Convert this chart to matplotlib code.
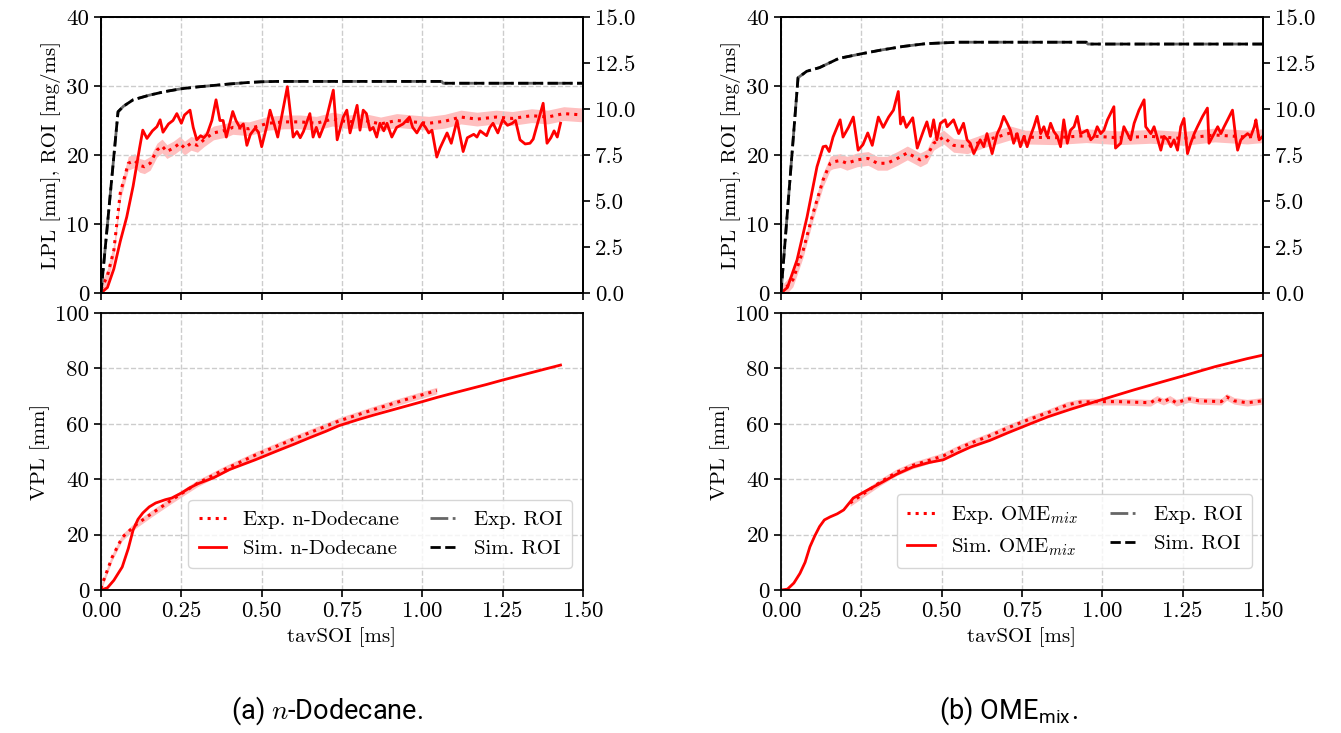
import matplotlib
matplotlib.use("Agg")
import matplotlib.pyplot as plt
import numpy as np

plt.rcParams['font.family'] = 'serif'
plt.rcParams['font.serif'] = ['cmr10']
plt.rcParams['mathtext.fontset'] = 'cm'
plt.rcParams['axes.unicode_minus'] = False
plt.rcParams['font.size'] = 15
plt.rcParams['xtick.labelsize'] = 16.5
plt.rcParams['ytick.labelsize'] = 16.5

# ---------------- (a) n-Dodecane ----------------
t_lpl_sim_a = [0.0, 0.02, 0.04, 0.06, 0.08, 0.10, 0.12, 0.13, 0.143, 0.16,
               0.174, 0.184, 0.193, 0.21, 0.224, 0.236, 0.25, 0.26, 0.277, 0.287,
               0.298, 0.31, 0.32, 0.33, 0.345, 0.358, 0.37, 0.38, 0.39, 0.41,
               0.42, 0.432, 0.443, 0.454, 0.465, 0.48, 0.49, 0.50, 0.515, 0.526,
               0.54, 0.55, 0.58, 0.598, 0.61, 0.62, 0.63, 0.65, 0.66, 0.67,
               0.68, 0.70, 0.723, 0.735, 0.754, 0.765, 0.775, 0.797, 0.806, 0.816,
               0.826, 0.837, 0.847, 0.858, 0.868, 0.88, 0.89, 0.905, 0.92, 0.94,
               0.96, 0.97, 0.983, 1.0, 1.01, 1.02, 1.03, 1.045, 1.055, 1.077,
               1.09, 1.108, 1.127, 1.14, 1.16, 1.17, 1.18, 1.2, 1.21, 1.22,
               1.235, 1.25, 1.265, 1.28, 1.29, 1.304, 1.32, 1.335, 1.345, 1.376,
               1.388, 1.40, 1.41, 1.42, 1.43]
lpl_sim_a = [0, 0.8, 3.5, 7.5, 11, 15.5, 21, 23.6, 22.4, 23.5,
             24.1, 25.1, 23.3, 24.5, 25, 26, 24.6, 25.8, 26.5, 24,
             22.2, 22.8, 22.5, 23, 25, 28, 25, 25, 22.6, 26.3,
             25, 24, 24.5, 21.4, 23, 23.9, 23.3, 21.2, 24, 26.5,
             24.3, 22.6, 29.9, 22.6, 23.4, 22.5, 23.4, 26, 22.6, 24,
             22.6, 25, 29.4, 22.2, 25.5, 26.5, 23.2, 27.2, 23.6, 26.5,
             26, 23.6, 24, 22.6, 24.6, 23.5, 24.6, 22.6, 24, 24.5,
             25.5, 24, 23.2, 24.6, 24, 23.2, 23.6, 19.7, 21, 23.2,
             21.7, 25, 20.5, 22.5, 23, 22.6, 23.5, 22.8, 24, 24.6,
             23.2, 25.1, 24.3, 24.6, 25, 22.2, 21.6, 21.7, 22.3, 27.5,
             21.7, 22.5, 23.5, 22.6, 24.6]

t_lpl_exp_a = [0, 0.02, 0.04, 0.06, 0.085, 0.105, 0.12, 0.135, 0.153, 0.174,
               0.19, 0.205, 0.225, 0.245, 0.26, 0.28, 0.30, 0.32, 0.35, 0.39,
               0.41, 0.46, 0.52, 0.57, 0.62, 0.67, 0.72, 0.77, 0.82, 0.87,
               0.92, 0.97, 1.02, 1.07, 1.12, 1.17, 1.23, 1.28, 1.34, 1.39,
               1.44, 1.5]
lpl_exp_a = [0.5, 2.5, 6.2, 14.5, 18.8, 19.2, 18.5, 18.3, 18.8, 20.7,
             21.3, 20.5, 21, 21.7, 21, 21.7, 21.4, 22.2, 23.2, 23.6,
             24, 23.8, 24.6, 24.8, 24.8, 24.6, 25.2, 24.8, 25, 24.5,
             25, 24.8, 24.6, 24.9, 25.5, 25.2, 25.5, 25.3, 25.7, 25.5,
             26, 25.8]

t_roi_a = [0, 0.053, 0.07, 0.1, 0.15, 0.2, 0.25, 0.3, 0.35, 0.4, 0.45, 0.5, 0.55, 1.06, 1.065, 1.5]
roi_a = [0, 9.85, 10.15, 10.5, 10.75, 10.95, 11.1, 11.2, 11.28, 11.36, 11.43, 11.48, 11.5, 11.5, 11.4, 11.4]

t_vpl_sim_a = [0, 0.02, 0.04, 0.066, 0.085, 0.1, 0.115, 0.13, 0.15, 0.17,
               0.2, 0.22, 0.25, 0.275, 0.3, 0.35, 0.4, 0.48, 0.55, 0.6,
               0.65, 0.7, 0.74, 0.8, 0.85, 0.9, 0.95, 1.0, 1.045, 1.1,
               1.15, 1.2, 1.25, 1.3, 1.35, 1.4, 1.43]
vpl_sim_a = [0, 0.8, 3.5, 8.3, 15, 21.7, 25.5, 27.8, 30, 31.4,
             32.6, 33.2, 35, 36.8, 38.3, 40.5, 43.5, 47, 50.3, 52.6,
             55, 57.3, 59.3, 61.5, 63.2, 64.8, 66.4, 68.0, 69.5, 71.2,
             72.7, 74.2, 75.8, 77.3, 78.8, 80.3, 81.2]

t_vpl_exp_a = [0, 0.005, 0.035, 0.066, 0.108, 0.16, 0.22, 0.3, 0.38, 0.48,
               0.6, 0.74, 0.85, 0.95, 1.045]
vpl_exp_a = [0.5, 2.5, 11.9, 19, 23.5, 27.8, 32.5, 38.5, 43.3, 48.7,
             54.5, 61.0, 65.2, 68.8, 72.0]

# ---------------- (b) OME_mix ----------------
t_lpl_sim_b = [0, 0.02, 0.05, 0.081, 0.112, 0.131, 0.14, 0.15, 0.162, 0.184,
               0.193, 0.21, 0.225, 0.24, 0.255, 0.27, 0.284, 0.303, 0.318, 0.335,
               0.35, 0.365, 0.372, 0.38, 0.39, 0.41, 0.424, 0.444, 0.454, 0.465,
               0.475, 0.485, 0.496, 0.511, 0.517, 0.537, 0.553, 0.568, 0.579, 0.589,
               0.6, 0.62, 0.631, 0.641, 0.657, 0.673, 0.683, 0.693, 0.704, 0.714,
               0.724, 0.735, 0.745, 0.756, 0.766, 0.776, 0.787, 0.797, 0.808, 0.818,
               0.828, 0.839, 0.849, 0.86, 0.87, 0.88, 0.891, 0.901, 0.912, 0.922,
               0.932, 0.953, 0.964, 0.974, 0.984, 0.995, 1.005, 1.016, 1.036, 1.041,
               1.057, 1.067, 1.078, 1.088, 1.099, 1.114, 1.13, 1.135, 1.151, 1.161,
               1.182, 1.192, 1.203, 1.213, 1.223, 1.234, 1.244, 1.254, 1.265, 1.275,
               1.286, 1.296, 1.312, 1.327, 1.332, 1.348, 1.359, 1.369, 1.379, 1.39,
               1.405, 1.416, 1.421, 1.431, 1.442, 1.452, 1.462, 1.473, 1.478, 1.488,
               1.499]
lpl_sim_b = [0, 0.8, 4.8, 11, 18.3, 21.2, 21.3, 20.5, 22.6, 25.1,
             22.6, 24, 25.5, 20.7, 21.5, 23.2, 21.4, 25.5, 24, 25.5,
             26.5, 29.2, 24.5, 25.5, 24, 25.4, 21, 23.6, 24.8, 22.7,
             25.1, 22.2, 24.6, 25.1, 24.1, 25.1, 23.1, 24.6, 22.2, 21.7,
             20.2, 22.2, 21.2, 23.1, 20.2, 23.1, 24.1, 25.6, 24.6, 23.6,
             21.7, 23.1, 21.2, 22.7, 21.2, 22.7, 24.1, 25.6, 23.1, 24.1,
             22.7, 24.6, 23.4, 22.7, 21.2, 25.1, 21.7, 23.6, 24.1, 25.6,
             23.1, 23.6, 22.2, 22.7, 24.1, 23.1, 23.6, 25.1, 27.0, 21.0,
             21.7, 24.1, 23.1, 22.2, 24.6, 26.5, 28.0, 24.1, 23.1, 24.1,
             20.7, 22.7, 22.2, 21.2, 22.2, 20.7, 24.1, 25.3, 20.2, 21.7,
             23.1, 24.1, 25.6, 26.8, 21.7, 23.1, 24.1, 23.1, 24.1, 25.1,
             26.5, 22.2, 20.7, 22.2, 22.7, 23.1, 22.7, 24.1, 25.1, 22.2,
             22.7]

t_lpl_exp_b = [0, 0.037, 0.069, 0.1, 0.131, 0.153, 0.162, 0.184, 0.205, 0.237,
               0.271, 0.3, 0.33, 0.362, 0.393, 0.433, 0.454, 0.475, 0.506, 0.537,
               0.58, 0.61, 0.64, 0.672, 0.714, 0.76, 0.85, 0.95, 1.05, 1.15,
               1.25, 1.35, 1.45, 1.5]
lpl_exp_b = [0, 1.9, 6.2, 11.6, 16.4, 18.8, 19.0, 19.2, 18.8, 19.3,
             19.5, 18.8, 18.8, 19.5, 20.3, 19.3, 19.8, 21.7, 22.6, 21.4,
             21.2, 21.7, 22.2, 22.6, 23.2, 22.6, 22.5, 22.8, 22.5, 22.7,
             22.4, 22.9, 22.6, 22.8]

t_roi_b = [0, 0.053, 0.08, 0.12, 0.18, 0.25, 0.31, 0.38, 0.45, 0.55, 0.95, 0.955, 1.5]
roi_b = [0, 11.7, 12.05, 12.25, 12.75, 13.0, 13.2, 13.4, 13.55, 13.63, 13.63, 13.53, 13.53]

t_vpl_sim_b = [0, 0.02, 0.04, 0.059, 0.075, 0.09, 0.105, 0.12, 0.135, 0.153,
               0.175, 0.195, 0.225, 0.26, 0.31, 0.36, 0.41, 0.46, 0.505, 0.55,
               0.59, 0.65, 0.705, 0.767, 0.83, 0.9, 0.995, 1.1, 1.2, 1.255,
               1.35, 1.45, 1.5]
vpl_sim_b = [0, 0.3, 2.5, 6, 10, 15.6, 19.5, 22.9, 25.3, 26.4,
             27.5, 28.9, 33.2, 35.5, 38.6, 41.8, 44.4, 46, 47, 49.5,
             51.6, 54, 56.7, 59.6, 62.5, 65.2, 68.6, 72.3, 75.6, 77.4,
             80.6, 83.5, 84.8]

t_vpl_exp_b = [0.215, 0.26, 0.31, 0.36, 0.41, 0.46, 0.505, 0.55, 0.59, 0.65,
               0.705, 0.77, 0.83, 0.89, 0.93, 0.97, 1.05, 1.1, 1.15, 1.17,
               1.19, 1.21, 1.23, 1.27, 1.3, 1.37, 1.387, 1.41, 1.45, 1.5]
vpl_exp_b = [31.4, 35, 39, 42.5, 45, 46.8, 48.4, 51, 53, 55.7,
             58.5, 61.5, 64, 66.8, 67.8, 68, 68, 67.8, 67.6, 69,
             68, 69, 67.6, 69, 68.3, 68, 69.7, 68.3, 67.6, 68.3]

lpl_band = 1.0
vpl_band = 1.2

W, H = 1341, 733
fig = plt.figure(figsize=(W / 100, H / 100), dpi=100)


def make_panel(x0, d, fuel):
    ax1 = fig.add_axes([x0 / W, 1 - 293 / H, 482 / W, 276 / H])
    ax2 = fig.add_axes([x0 / W, 1 - 590 / H, 482 / W, 277 / H])
    axr = ax1.twinx()

    t_e = np.array(d['t_lpl_exp'])
    y_e = np.array(d['lpl_exp'])
    ax1.fill_between(t_e, y_e - lpl_band, y_e + lpl_band, color='red', alpha=0.25, lw=0)
    ax1.plot(t_e, y_e, ':', color='red', lw=2.2)
    ax1.plot(d['t_lpl_sim'], d['lpl_sim'], '-', color='red', lw=2)
    axr.plot(d['t_roi'], d['roi'], '-.', color='#666666', lw=2)
    axr.plot(d['t_roi'], d['roi'], '--', color='black', lw=2)

    ax1.set_xlim(0, 1.5)
    ax1.set_ylim(0, 40)
    ax1.set_yticks([0, 10, 20, 30, 40])
    ax1.set_xticks(np.arange(0, 1.51, 0.25))
    ax1.set_xticklabels([])
    axr.set_ylim(0, 15)
    axr.set_yticks(np.arange(0, 15.1, 2.5))
    axr.set_yticklabels(['%.1f' % v for v in np.arange(0, 15.1, 2.5)])
    ax1.set_ylabel('LPL [mm], ROI [mg/ms]')
    ax1.grid(True, ls='--', color='#cccccc', lw=1)

    t_e = np.array(d['t_vpl_exp'])
    y_e = np.array(d['vpl_exp'])
    ax2.fill_between(t_e, y_e - vpl_band, y_e + vpl_band, color='red', alpha=0.25, lw=0)
    ax2.plot(t_e, y_e, ':', color='red', lw=2.2, label='Exp. ' + fuel)
    ax2.plot(d['t_vpl_sim'], d['vpl_sim'], '-', color='red', lw=2, label='Sim. ' + fuel)
    ax2.plot([], [], '-.', color='#666666', lw=2, label='Exp. ROI')
    ax2.plot([], [], '--', color='black', lw=2, label='Sim. ROI')
    ax2.set_xlim(0, 1.5)
    ax2.set_ylim(0, 100)
    ax2.set_xticks(np.arange(0, 1.51, 0.25))
    ax2.set_xticklabels(['%.2f' % v for v in np.arange(0, 1.51, 0.25)])
    ax2.set_yticks([0, 20, 40, 60, 80, 100])
    ax2.set_ylabel('VPL [mm]')
    ax2.set_xlabel('tavSOI [ms]')
    ax2.grid(True, ls='--', color='#cccccc', lw=1)
    ax2.legend(ncol=2, loc='lower right', bbox_to_anchor=(0.978, 0.078),
               borderaxespad=0, handlelength=1.3, columnspacing=1.5,
               handletextpad=0.8, labelspacing=0.5, borderpad=0.5, framealpha=0.8)

    for a in (ax1, ax2, axr):
        for s in a.spines.values():
            s.set_linewidth(1.3)
        a.tick_params(width=1.2, length=5)


data_a = dict(t_lpl_sim=t_lpl_sim_a, lpl_sim=lpl_sim_a, t_lpl_exp=t_lpl_exp_a, lpl_exp=lpl_exp_a,
              t_roi=t_roi_a, roi=roi_a, t_vpl_sim=t_vpl_sim_a, vpl_sim=vpl_sim_a,
              t_vpl_exp=t_vpl_exp_a, vpl_exp=vpl_exp_a)
data_b = dict(t_lpl_sim=t_lpl_sim_b, lpl_sim=lpl_sim_b, t_lpl_exp=t_lpl_exp_b, lpl_exp=lpl_exp_b,
              t_roi=t_roi_b, roi=roi_b, t_vpl_sim=t_vpl_sim_b, vpl_sim=vpl_sim_b,
              t_vpl_exp=t_vpl_exp_b, vpl_exp=vpl_exp_b)

make_panel(101, data_a, 'n-Dodecane')
make_panel(781, data_b, 'OME$_{mix}$')

fig.text(327 / W, 1 - 711 / H, r'(a) $n$-Dodecane.', ha='center', va='center',
         family='Roboto', fontsize=19.5)
fig.text(1008 / W, 1 - 711 / H, r'(b) OME$_\mathregular{mix}$.', ha='center', va='center',
         family='Roboto', fontsize=19.5)

fig.savefig('out.png', dpi=100)
